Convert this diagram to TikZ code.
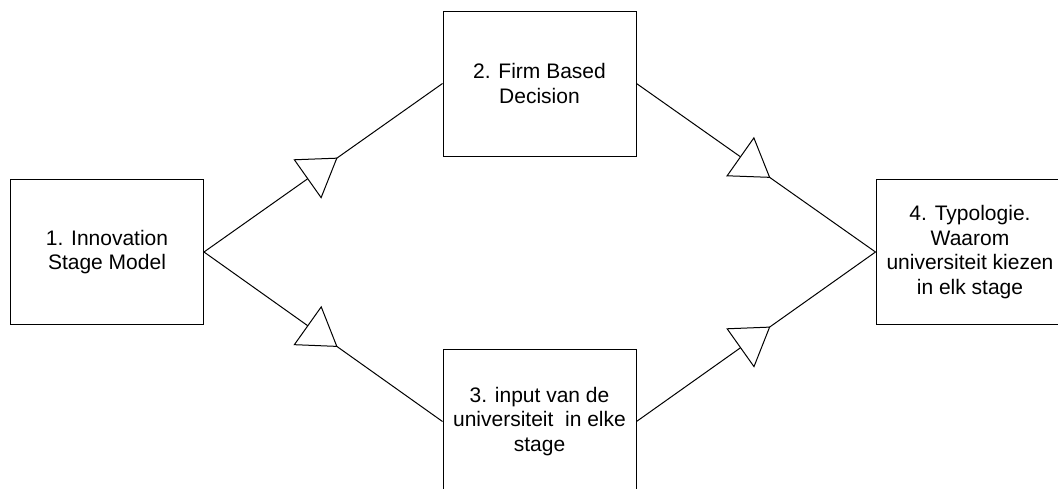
\documentclass[tikz,border=0pt]{standalone}
\usepackage{fontspec}
\setmainfont{Liberation Sans}
\usetikzlibrary{arrows.meta,decorations.markings}

\begin{document}
\begin{tikzpicture}[
    x=1pt, y=-1pt,
    stagebox/.style={
        draw=black,
        line width=1pt,
        minimum width=193pt,
        minimum height=145pt,
        inner sep=2pt,
        align=center,
        font=\fontsize{21}{24.5}\selectfont
    },
    flow/.style={
        line width=1pt,
        postaction={decorate},
        decoration={markings,
            mark=at position 0.56 with {\arrow{Triangle[fill=white, length=37pt, width=48pt]}}}
    }
]
    \useasboundingbox (0,0) rectangle (1058,488);

    \node[stagebox] (innovation) at (107,252)   {1. Innovation\\Stage Model};
    \node[stagebox] (firm)       at (539.5,83.5) {2. Firm Based\\Decision};
    \node[stagebox] (input)      at (539.5,421.5) {3. input van de\\universiteit~ in elke\\stage};
    \node[stagebox, minimum width=188pt] (typology) at (970,252) {4. Typologie.\\Waarom\\universiteit kiezen\\in elk stage};

    % upper and lower routes
    \draw[flow] (innovation.east) -- (firm.west);
    \draw[flow] (innovation.east) -- (input.west);
    \draw[flow] (firm.east) -- (typology.west);
    \draw[flow] (input.east) -- (typology.west);
\end{tikzpicture}
\end{document}
